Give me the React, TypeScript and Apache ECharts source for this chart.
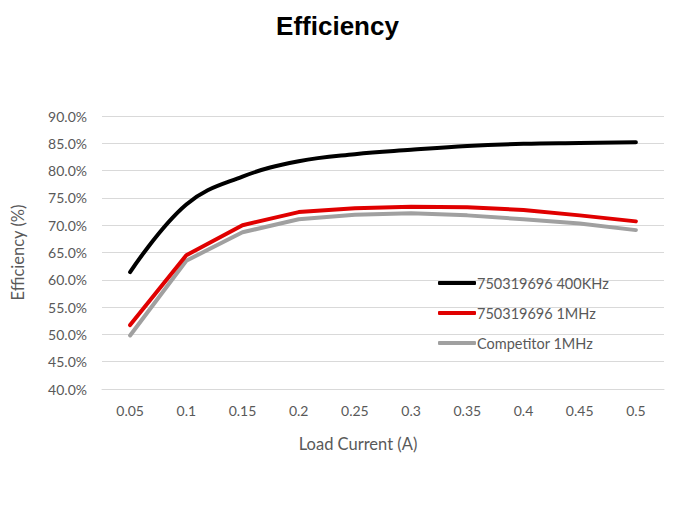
import React, { useEffect, useRef } from "react";
import * as echarts from "echarts";

const categories = ["0.05", "0.1", "0.15", "0.2", "0.25", "0.3", "0.35", "0.4", "0.45", "0.5"];
const s400k = [61.4, 73.8, 78.9, 81.7, 83.0, 83.8, 84.5, 84.9, 85.05, 85.2];
const s1m = [51.7, 64.5, 70.0, 72.4, 73.1, 73.4, 73.3, 72.8, 71.8, 70.7];
const comp = [49.8, 63.5, 68.7, 71.1, 71.9, 72.2, 71.8, 71.1, 70.3, 69.1];
const seriesNames = ["750319696 400KHz", "750319696 1MHz", "Competitor 1MHz"];
const seriesColors = ["#000000", "#e00000", "#a0a0a0"];

export default function App() {
  const ref = useRef<HTMLDivElement>(null);
  useEffect(() => {
    if (!ref.current) return;
    const chart = echarts.init(ref.current, null, { renderer: "svg" });
    const font = "Lato, 'Open Sans', sans-serif";
    const data = [s400k, s1m, comp];
    chart.setOption({
      animation: false,
      backgroundColor: "#ffffff",
      title: {
        text: "Efficiency",
        left: "center",
        top: 8,
        textStyle: { fontFamily: "'Liberation Sans', Arial, sans-serif", fontWeight: "bold", fontSize: 26, color: "#000" },
      },
      grid: { left: 102, right: 11, top: 116, bottom: 117 },
      legend: {
        orient: "vertical",
        left: 433,
        top: 269,
        itemWidth: 38,
        itemHeight: 4,
        icon: "roundRect",
        itemGap: 12,
        data: seriesNames,
        textStyle: { fontFamily: font, fontSize: 14.5, color: "#595959", padding: [0, 0, 0, -4], lineHeight: 18 },
      },
      xAxis: {
        type: "category",
        data: categories,
        boundaryGap: true,
        name: "Load Current (A)",
        nameLocation: "middle",
        nameGap: 46,
        nameTextStyle: { fontFamily: font, fontSize: 16.5, color: "#595959", padding: [0, 50, 0, 0] },
        axisLine: { lineStyle: { color: "#d9d9d9" } },
        axisTick: { show: false },
        axisLabel: { fontFamily: font, fontSize: 14, color: "#595959", margin: 14 },
      },
      yAxis: {
        type: "value",
        min: 40,
        max: 90,
        interval: 5,
        name: "Efficiency (%)",
        nameLocation: "middle",
        nameGap: 76,
        nameRotate: 90,
        nameTextStyle: { fontFamily: font, fontSize: 16.5, color: "#595959" },
        axisLine: { show: false },
        axisTick: { show: false },
        splitLine: { lineStyle: { color: "#d9d9d9", width: 1 } },
        axisLabel: {
          fontFamily: font,
          fontSize: 14,
          color: "#595959",
          margin: 15,
          formatter: (v: number) => v.toFixed(1) + "%",
        },
      },
      series: data.map((d, i) => ({
        name: seriesNames[i],
        type: "line",
        data: d,
        symbol: "none",
        smooth: i === 0 ? 0.4 : false,
        lineStyle: { color: seriesColors[i], width: 4, cap: "round", join: "round" },
        itemStyle: { color: seriesColors[i] },
        z: 3 - i,
      })),
    });
    return () => chart.dispose();
  }, []);
  return <div ref={ref} style={{ width: 675, height: 506, position: "absolute", left: 0, top: 0 }} />;
}
